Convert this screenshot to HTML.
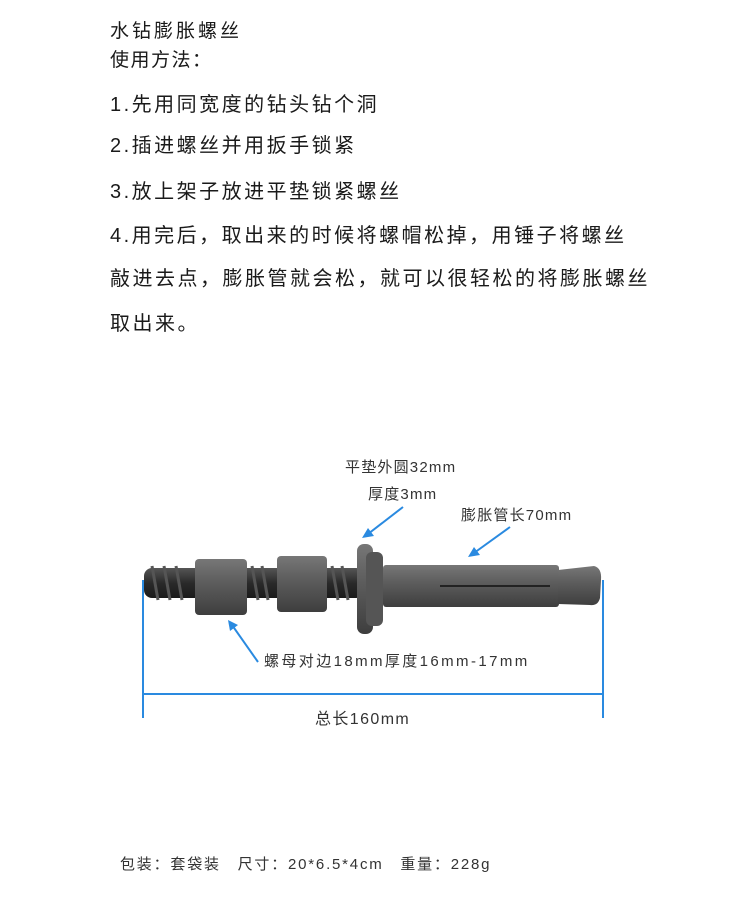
<!DOCTYPE html>
<html><head><meta charset="utf-8"><style>
body{margin:0;width:750px;height:900px;background:#fff;position:relative;overflow:hidden;font-family:"Liberation Sans","Noto Sans CJK SC",sans-serif;}
.t{position:absolute;left:110px;font-size:20px;color:#1a1a1a;white-space:nowrap;letter-spacing:2.5px;}
.l{position:absolute;font-size:15px;color:#333;white-space:nowrap;letter-spacing:1.2px;}
</style></head><body>
<div class="t" style="top:16px;font-size:19px;letter-spacing:3px">水钻膨胀螺丝</div>
<div class="t" style="top:45px;font-size:19px;letter-spacing:1.5px">使用方法：</div>
<div class="t" style="top:88px">1.先用同宽度的钻头钻个洞</div>
<div class="t" style="top:129px">2.插进螺丝并用扳手锁紧</div>
<div class="t" style="top:175px">3.放上架子放进平垫锁紧螺丝</div>
<div class="t" style="top:219px">4.用完后，取出来的时候将螺帽松掉，用锤子将螺丝</div>
<div class="t" style="top:262px">敲进去点，膨胀管就会松，就可以很轻松的将膨胀螺丝</div>
<div class="t" style="top:307px">取出来。</div>
<svg style="position:absolute;left:0;top:0" width="750" height="900">
<defs>
<linearGradient id="g" x1="0" y1="0" x2="0" y2="1"><stop offset="0" stop-color="#777"/><stop offset=".4" stop-color="#5e5e5e"/><stop offset="1" stop-color="#3e3e3e"/></linearGradient>
<linearGradient id="r" x1="0" y1="0" x2="0" y2="1"><stop offset="0" stop-color="#555"/><stop offset=".5" stop-color="#2a2a2a"/><stop offset="1" stop-color="#1a1a1a"/></linearGradient>
</defs>
<rect x="144" y="568" width="220" height="30" rx="8" fill="url(#r)"/>
<g stroke="#555" stroke-width="3">
<line x1="152" y1="566" x2="158" y2="600"/><line x1="164" y1="566" x2="170" y2="600"/><line x1="176" y1="566" x2="182" y2="600"/>
<line x1="252" y1="566" x2="258" y2="600"/><line x1="262" y1="566" x2="268" y2="600"/>
<line x1="332" y1="566" x2="338" y2="600"/><line x1="342" y1="566" x2="348" y2="600"/>
</g>
<rect x="195" y="559" width="52" height="56" rx="4" fill="url(#g)"/>
<rect x="277" y="556" width="50" height="56" rx="4" fill="url(#g)"/>
<rect x="357" y="544" width="16" height="90" rx="7" fill="url(#g)"/>
<rect x="366" y="552" width="17" height="74" rx="6" fill="#555"/>
<rect x="383" y="565" width="176" height="42" rx="3" fill="url(#g)"/>
<line x1="440" y1="586" x2="550" y2="586" stroke="#222" stroke-width="2"/>
<path d="M558 570 L594 566 Q602 568 601 580 L600 598 Q598 606 590 605 L558 604Z" fill="url(#g)"/>
<g stroke="#2a8ae0" stroke-width="2" fill="#2a8ae0">
<line x1="143" y1="580" x2="143" y2="718"/><line x1="603" y1="580" x2="603" y2="718"/>
<line x1="143" y1="694" x2="603" y2="694"/>
<line x1="403" y1="507" x2="368" y2="534"/><polygon points="362,538 374,536 368,528" stroke="none"/>
<line x1="510" y1="527" x2="474" y2="553"/><polygon points="468,557 480,555 474,547" stroke="none"/>
<line x1="258" y1="662" x2="232" y2="625"/><polygon points="228,620 238,625 230,631" stroke="none"/>
</g>
</svg>
<div class="l" style="left:345px;top:456px">平垫外圆32mm</div>
<div class="l" style="left:368px;top:483px">厚度3mm</div>
<div class="l" style="left:461px;top:504px">膨胀管长70mm</div>
<div class="l" style="left:264px;top:650px;letter-spacing:2.4px">螺母对边18mm厚度16mm-17mm</div>
<div class="l" style="left:315px;top:705px;font-size:16px;letter-spacing:1.4px">总长160mm</div>
<div class="l" style="left:120px;top:853px;letter-spacing:1.8px">包装：套袋装　尺寸：20*6.5*4cm　重量：228g</div>
</body></html>
